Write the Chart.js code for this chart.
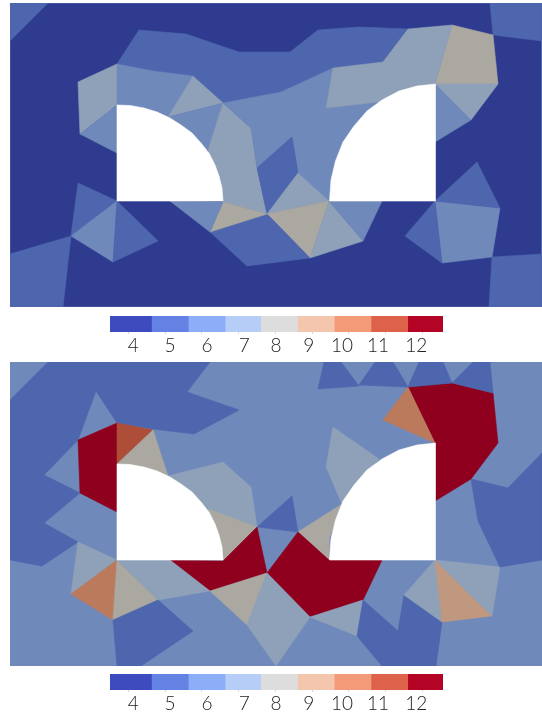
<!DOCTYPE html>
<html>
<head>
<meta charset="utf-8">
<title>Mesh cell values</title>
<script src="https://cdn.jsdelivr.net/npm/chart.js@4"></script>
<style>
  body { margin: 0; background: #fff; }
  canvas { position: absolute; }
</style>
</head>
<body>
<canvas id="topMesh" width="532" height="304" style="left:10px;top:3px"></canvas>
<canvas id="topBar" width="333" height="38" style="left:110px;top:316px"></canvas>
<canvas id="bottomMesh" width="532" height="304" style="left:10px;top:362px"></canvas>
<canvas id="bottomBar" width="333" height="38" style="left:110px;top:674px"></canvas>
<script>
// colour bar
const barEdges = [3.5, 4.63, 5.63, 6.63, 7.6, 8.6, 9.6, 10.6, 11.6, 12.56];
const tickValues = [4, 5, 6, 7, 8, 9, 10, 11, 12];
const tickLabels = ["4", "5", "6", "7", "8", "9", "10", "11", "12"];
const tickLabelSpots = [4.13, 5.13, 6.14, 7.15, 8.02, 8.91, 9.81, 10.79, 11.83];
const barColors = ["#3e4bbf", "#6482e4", "#8cadf8", "#b5cdf7", "#dddddd", "#f4c6ae", "#f39b78", "#de624a", "#b40426"];
const cellColors = { 4: "#2e3b8f", 5: "#4e66ae", 6: "#6f89bb", 7: "#8fa1b9", 8: "#aaa8a1", 9: "#c09880", 10: "#bc7a5c", 11: "#ae4d38", 12: "#8e001d" };

// the two holes in the mesh
const holeLeft = [[117,105],[130,105.5],[144,108],[157,112],[170,118],[181,125],[192,133],[201,143],[209,153],[215,165],[219,176],[222,188],[223,201],[117,201]];
const holeRight = [[435.5,84],[417,86],[399,91],[382,100],[367,111],[354,126],[343,142],[335.5,161],[331,180],[329.5,201],[435.5,201]];
const meshBox = [[10,3],[542,3],[542,307],[10,307]];

// top panel
const topBackground = 4;
const topValues = [5, 5, 7, 6, 6, 7, 6, 7, 6, 5, 7, 8, 7, 6, 5, 8, 6, 5, 6, 5, 5, 6, 5, 5, 5, 5, 8, 7, 7, 6];
const topCells = [
  [[10,3],[48,3],[10,41]],
  [[117,64],[139,30],[186,34],[239,52],[290,52],[318,30],[358,27],[408,29],[383,62],[333,68],[281,92],[223,103],[193,76],[153,71]],
  [[117,64],[78,82],[80,134],[117,105]],
  [[80,134],[117,105],[117,153]],
  [[117,64],[153,71],[193,76],[168,117],[117,120]],
  [[193,76],[223,103],[168,117]],
  [[168,117],[223,103],[208,150],[190,150]],
  [[223,103],[251,128],[257,168],[267,214],[223,202],[216,175],[208,150]],
  [[223,103],[281,92],[333,68],[326,108],[379,102],[340,150],[329,201],[298,173],[292,137],[257,168],[251,128]],
  [[257,168],[292,137],[298,173],[267,214]],
  [[298,173],[329,201],[267,214]],
  [[267,214],[329,201],[310,258]],
  [[329,201],[363,241],[310,258]],
  [[329,201],[382,201],[363,241]],
  [[210,232],[267,214],[310,258],[247,266]],
  [[223,202],[267,214],[210,232]],
  [[170,201],[223,202],[210,232]],
  [[78,183],[117,201],[71,236]],
  [[117,201],[71,236],[113,262]],
  [[117,201],[158,241],[113,262]],
  [[10,254],[71,236],[63,307],[10,307]],
  [[435,201],[500,208],[492,257],[442,263]],
  [[435,201],[477,162],[500,208]],
  [[435,201],[442,263],[405,236]],
  [[492,257],[542,254],[542,307],[489,307]],
  [[490,3],[542,3],[542,41],[493,35]],
  [[452,25],[493,35],[498,84],[435,84]],
  [[408,29],[452,25],[435,84],[379,102],[326,108],[333,68],[383,62]],
  [[435,84],[498,84],[471,120]],
  [[435,84],[471,120],[435,142]]
];

// bottom panel
const bottomBackground = 6;
const bottomValues = [5, 12, 11, 8, 7, 8, 12, 5, 8, 7, 12, 8, 7, 7, 5, 7, 9, 7, 5, 12, 10, 5, 5, 5, 5, 7, 10, 8, 7, 5];
const bottomCells = [
  [[48,3],[210,3],[187,33],[239,51],[194,75],[153,70],[117,64],[96,32],[78,81],[44,116],[80,134],[44,164],[78,183],[42,207],[10,201],[10,41]],
  [[117,64],[78,81],[80,134],[117,153]],
  [[117,64],[153,71],[117,105]],
  [[153,71],[168,117],[117,105]],
  [[168,117],[223,103],[251,128],[257,168],[208,150]],
  [[208,150],[257,168],[223,202]],
  [[257,168],[267,214],[210,232],[170,201],[223,202]],
  [[257,168],[292,137],[298,173]],
  [[298,173],[342,145],[329,180],[329,201]],
  [[333,68],[379,100],[342,145],[326,108]],
  [[298,173],[329,201],[382,201],[363,241],[310,258],[267,214]],
  [[210,232],[267,214],[247,266]],
  [[267,214],[310,258],[276,307],[247,266]],
  [[310,258],[363,241],[357,277]],
  [[363,241],[398,272],[404,236],[442,263],[436,307],[382,307],[357,277]],
  [[435,201],[442,263],[404,236]],
  [[435,201],[492,257],[442,263]],
  [[435,201],[500,208],[492,257]],
  [[471,120],[508,129],[542,94],[542,201],[500,208],[478,162]],
  [[408,28],[452,24],[493,34],[498,84],[471,120],[435,142],[435,84]],
  [[408,28],[435,84],[383,61]],
  [[324,3],[341,3],[359,27],[318,30]],
  [[359,26],[375,3],[393,3],[408,28]],
  [[408,28],[419,3],[443,3],[452,24]],
  [[452,24],[473,3],[490,3],[493,34]],
  [[78,183],[117,201],[71,235]],
  [[117,201],[71,235],[113,261]],
  [[117,201],[158,241],[113,261]],
  [[117,201],[170,201],[210,232],[158,241]],
  [[113,261],[158,241],[193,272],[141,307],[117,307]]
];

function toPoints(cell) {
  let pts = cell.map(p => ({x: p[0], y: p[1]}));
  pts.push(pts[0]);
  return pts;
}

function polygon(cell, color, edge) {
  return {
    data: toPoints(cell),
    showLine: true,
    fill: "shape",
    tension: 0,
    pointRadius: 0,
    backgroundColor: color,
    borderColor: edge || color,
    borderWidth: 0.6
  };
}

function drawMesh(id, background, values, cells) {
  let datasets = [polygon(meshBox, cellColors[background], "#6f89bb")];
  cells.forEach((cell, i) => {
    datasets.push(polygon(cell, cellColors[values[i]]));
  });
  datasets.push(polygon(holeLeft, "#ffffff"));
  datasets.push(polygon(holeRight, "#ffffff"));
  // chart.js paints the first dataset last
  datasets.reverse();

  new Chart(document.getElementById(id), {
    type: "scatter",
    data: { datasets: datasets },
    options: {
      responsive: false,
      animation: false,
      events: [],
      plugins: { legend: { display: false }, tooltip: { enabled: false } },
      scales: {
        x: { type: "linear", min: 10, max: 542, display: false },
        y: { type: "linear", min: 3, max: 307, reverse: true, display: false }
      }
    }
  });
}

function drawBar(id) {
  let datasets = barColors.map((color, i) => ({
    data: [[barEdges[i], barEdges[i + 1]]],
    backgroundColor: color,
    grouped: false,
    barPercentage: 1,
    categoryPercentage: 1
  }));

  new Chart(document.getElementById(id), {
    type: "bar",
    data: { labels: ["value"], datasets: datasets },
    options: {
      indexAxis: "y",
      responsive: false,
      animation: false,
      events: [],
      plugins: { legend: { display: false }, tooltip: { enabled: false } },
      scales: {
        y: { display: false },
        x: {
          type: "linear",
          min: barEdges[0],
          max: barEdges[barEdges.length - 1],
          weight: 1,
          border: { display: false },
          grid: { drawOnChartArea: false, tickLength: 2, color: "#d5d5d5" },
          ticks: { display: false },
          afterBuildTicks: scale => { scale.ticks = tickValues.map(v => ({value: v})); },
          afterFit: scale => { scale.height = 2; }
        },
        labelAxis: {
          type: "linear",
          position: "bottom",
          min: barEdges[0],
          max: barEdges[barEdges.length - 1],
          weight: 2,
          border: { display: false },
          grid: { display: false, drawTicks: false },
          ticks: {
            padding: 0,
            maxRotation: 0,
            autoSkip: false,
            color: "#222222",
            font: { family: "Lato", size: 19, weight: "300" },
            callback: (v, i) => tickLabels[i]
          },
          afterBuildTicks: scale => { scale.ticks = tickLabelSpots.map(v => ({value: v})); },
          afterFit: scale => { scale.height = 20; }
        }
      }
    }
  });
}

drawMesh("topMesh", topBackground, topValues, topCells);
drawBar("topBar");
drawMesh("bottomMesh", bottomBackground, bottomValues, bottomCells);
drawBar("bottomBar");
</script>
</body>
</html>
